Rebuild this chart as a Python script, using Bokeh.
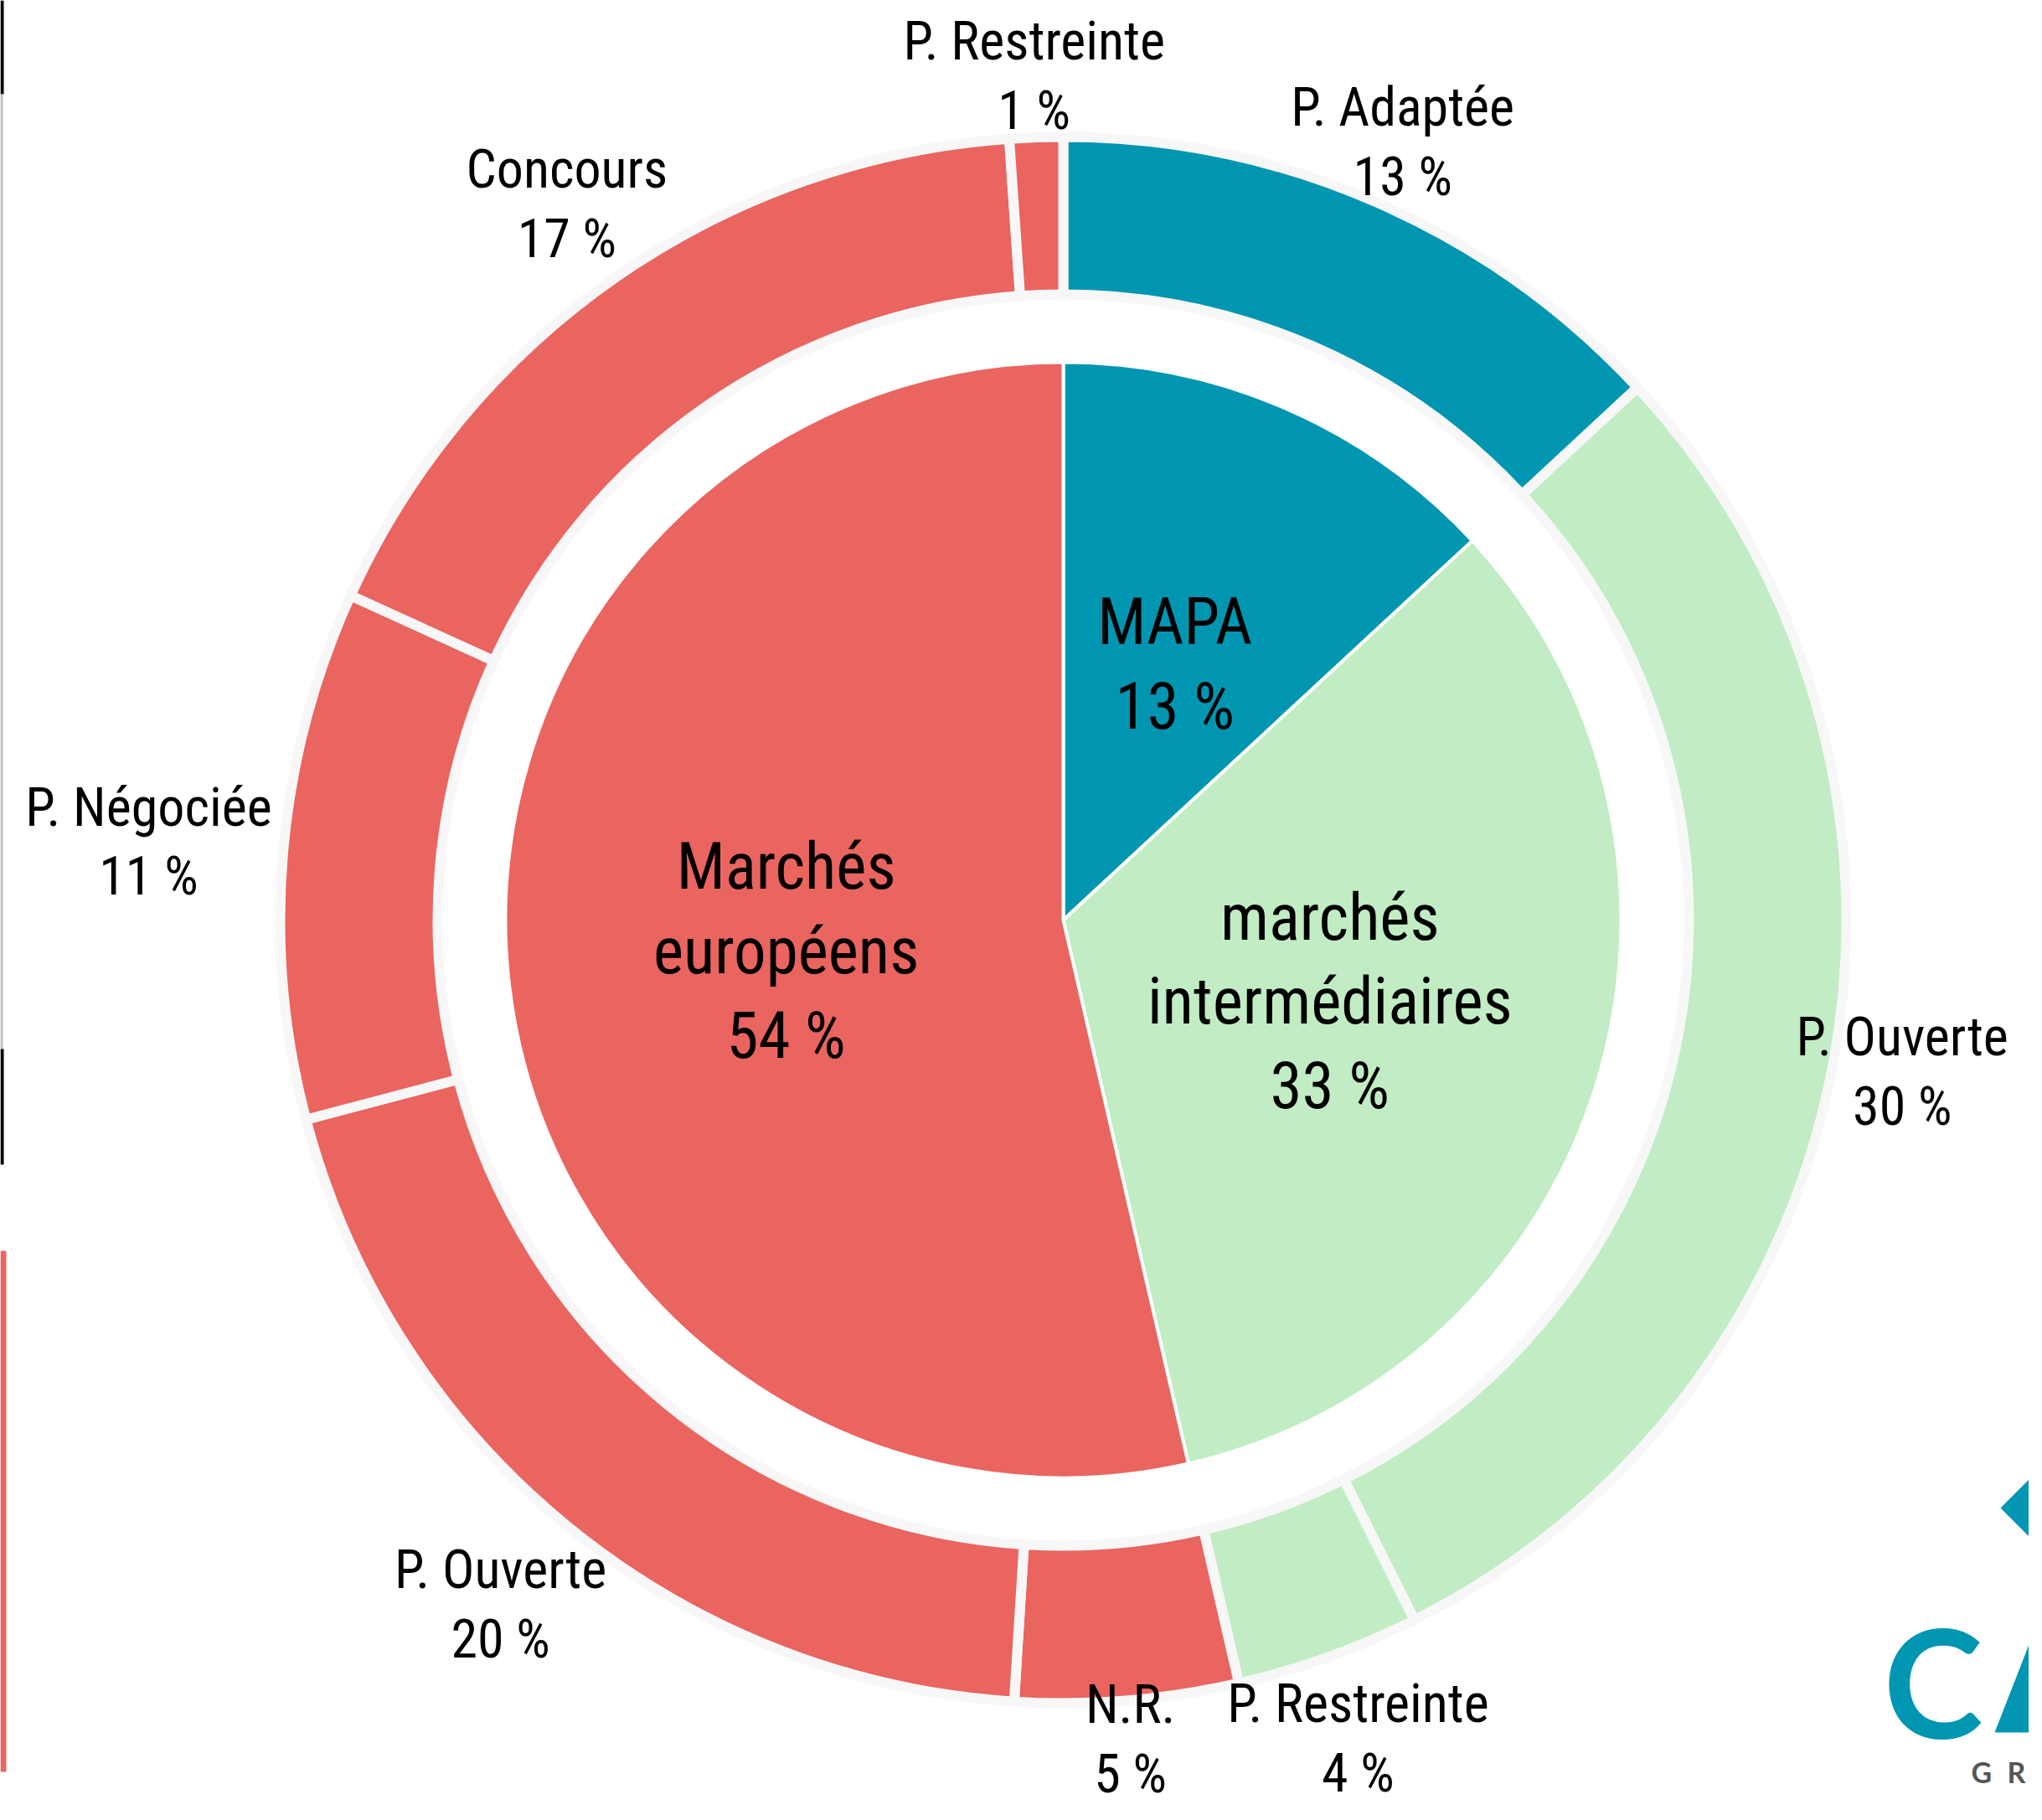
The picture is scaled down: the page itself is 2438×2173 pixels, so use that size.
import numpy as np
from bokeh.plotting import figure
from bokeh.models import Range1d, ColumnDataSource
from bokeh.core.properties import value
from bokeh.embed import file_html
from bokeh.resources import INLINE

# ---------------- data ----------------
inner_names = ["MAPA", "marchés\nintermédiaires", "Marchés\neuropéens"]
inner_values = [13.1, 33.3, 53.6]
inner_colors = ["#0096B2", "#C1ECC4", "#EA6460"]

outer_names = ["P. Adaptée", "P. Ouverte", "P. Restreinte", "N.R.",
               "P. Ouverte", "P. Négociée", "Concours", "P. Restreinte"]
outer_values = [13.1, 29.5, 3.8, 4.6, 19.9, 10.9, 17.1, 1.1]
outer_group = [0, 1, 1, 2, 2, 2, 2, 2]

# ---------------- layout ----------------
W, H = 2438, 2173
CX, CY = 1269, H - 1098
R_PIE = 666
R_RING_IN, R_RING_OUT = 747, 935
# radial distance of each outer label (layout only)
outer_label_r = [1013, 1018, 1039, 982, 1058, 1096, 1040, 1008]
FONT = value("'Roboto Condensed', 'Open Sans Condensed', 'Noto Sans Condensed', Roboto, sans-serif")


def angles(vals):
    v = np.array(vals, dtype=float)
    frac = v / v.sum()
    end = np.cumsum(frac) * 2 * np.pi
    start = end - frac * 2 * np.pi
    mid = (start + end) / 2
    # clockwise from top -> bokeh anticlockwise from +x
    return np.pi / 2 - end, np.pi / 2 - start, mid


p = figure(width=2422, height=2157, x_range=Range1d(0, 2422), y_range=Range1d(16, 2173),
           output_backend="svg", toolbar_location=None,
           x_axis_location=None, y_axis_location=None, min_border=0)
p.grid.visible = False
p.outline_line_color = None
p.background_fill_color = "white"
p.border_fill_color = "white"

# inner pie
s_a, e_a, mid = angles(inner_values)
src_in = ColumnDataSource(dict(s=s_a, e=e_a, c=inner_colors))
p.wedge(x=CX, y=CY, radius=R_PIE, start_angle="s", end_angle="e", direction="anticlock",
        fill_color="c", line_color="white", line_width=4, source=src_in)
lbl_in = [f"{n}\n{round(v)} %" for n, v in zip(inner_names, inner_values)]
p.text(x=CX + 0.5 * R_PIE * np.sin(mid), y=CY + 0.5 * R_PIE * np.cos(mid), text=lbl_in,
       text_font=FONT, text_font_size="77px", text_align="center", text_baseline="middle",
       text_line_height=1.12, text_color="black")

# outer ring
s_o, e_o, mid_o = angles(outer_values)
src_out = ColumnDataSource(dict(s=s_o, e=e_o, c=[inner_colors[g] for g in outer_group]))
p.annular_wedge(x=CX, y=CY, inner_radius=R_RING_IN, outer_radius=R_RING_OUT,
                start_angle="s", end_angle="e", direction="anticlock",
                fill_color="c", line_color="#F7F7F7", line_width=12, source=src_out)
lr = np.array(outer_label_r)
lbl_out = [f"{n}\n{round(v)} %" for n, v in zip(outer_names, outer_values)]
p.text(x=CX + lr * np.sin(mid_o), y=CY + lr * np.cos(mid_o), text=lbl_out,
       text_font=FONT, text_font_size="64px", text_align="center", text_baseline="middle",
       text_line_height=1.1, text_color="black")

# decorative bars at the left edge (remnants of neighbouring content)
bars_left = [0, 0, 0, 0]
bars_right = [4, 3, 4, 7]
bars_top_ref = [0, 112, 1252, 1493]
bars_bot_ref = [112, 1252, 1390, 2115]
bars_col = ["black", "#BDBDBD", "black", "#EA6460"]
p.quad(left=bars_left, right=bars_right, top=[H - t for t in bars_top_ref],
       bottom=[H - b for b in bars_bot_ref], fill_color=bars_col, line_color=None)

# logo fragment bottom right (diamond and the cut-off left leg of the "A" as shapes)
p.patch(x=[2388, 2442, 2496, 2442], y=[H - 1800, H - 1746, H - 1800, H - 1854],
        fill_color="#0096B2", line_color=None)
p.patch(x=[2381, 2431, 2474, 2424], y=[H - 2068, H - 1940, H - 1940, H - 2068],
        fill_color="#0096B2", line_color=None)
p.text(x=[2248], y=[H - 2005], text=["C"], text_font=value("Lato"),
       text_font_style="bold", text_font_size="180px", text_color="#0096B2",
       text_baseline="middle", text_align="left")
p.text(x=[2353, 2396], y=[H - 2115, H - 2115], text=["G", "R"],
       text_font=value("Lato"), text_font_style="bold", text_font_size="34px",
       text_color="#555555", text_baseline="middle", text_align="left")

open("out.html", "w").write(file_html(p, INLINE))
